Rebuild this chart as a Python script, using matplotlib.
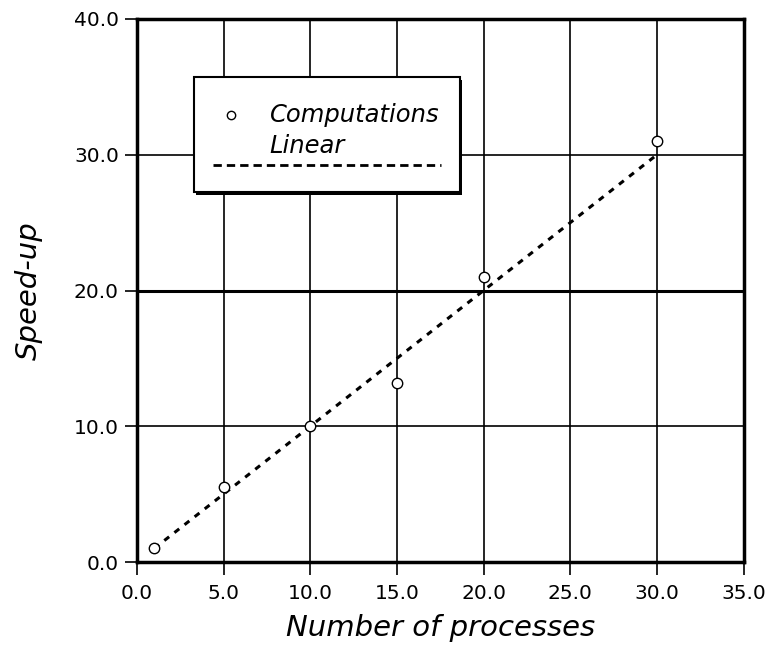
import numpy as np
import matplotlib
matplotlib.use("Agg")
import matplotlib.pyplot as plt
from matplotlib.patches import Rectangle

# data
procs = [1, 5, 10, 15, 20, 30]
speedup = [1.0, 5.5, 10.0, 13.2, 21.0, 31.0]
linear_x = [1, 30]
linear_y = [1, 30]
xticks = [0, 5, 10, 15, 20, 25, 30, 35]
yticks = [0, 10, 20, 30, 40]

plt.rcParams['font.family'] = ['DejaVu Sans']

fig = plt.figure(figsize=(7.69, 6.46), dpi=100)
ax = fig.add_axes([0.178, 0.130, 0.789, 0.8406])

ax.plot(linear_x, linear_y, color='black', lw=2.2, dashes=(2, 2.2), zorder=3)
ax.plot(procs, speedup, 'o', mfc='white', mec='black', mew=1.0, ms=7.5, ls='none', zorder=4)

ax.set_xlim(0, 35)
ax.set_ylim(0, 40)
ax.set_xticks(xticks)
ax.set_yticks(yticks)
ax.set_xticklabels([f'{v:.1f}' for v in xticks])
ax.set_yticklabels([f'{v:.1f}' for v in yticks])
ax.tick_params(direction='out', length=9, width=1.2, labelsize=14.5, colors='black')
ax.tick_params(axis='x', pad=7)
ax.tick_params(axis='y', pad=4)

ax.grid(True, color='black', lw=1.2)
ax.set_axisbelow(True)
ax.get_ygridlines()[2].set_linewidth(2.2)

for s in ax.spines.values():
    s.set_linewidth(2.5)

ax.set_xlabel('Number of processes', fontsize=21, style='italic', labelpad=8)
ax.set_ylabel('Speed-up', fontsize=21, style='italic', labelpad=22)

# legend drawn by hand to match the odd layout
tr = ax.transAxes
ax.add_patch(Rectangle((0.098, 0.676), 0.438, 0.212, transform=tr,
                       facecolor='black', edgecolor='none', zorder=5))
ax.add_patch(Rectangle((0.094, 0.681), 0.438, 0.212, transform=tr,
                       facecolor='white', edgecolor='black', lw=1.5, zorder=6))
ax.plot([0.155], [0.823], 'o', transform=tr, mfc='white', mec='black',
        mew=1.0, ms=6, zorder=7)
ax.text(0.219, 0.823, 'Computations', transform=tr, fontsize=17.5, style='italic',
        va='center', ha='left', zorder=7)
ax.text(0.219, 0.766, 'Linear', transform=tr, fontsize=17.5, style='italic',
        va='center', ha='left', zorder=7)
ax.plot([0.125, 0.501], [0.731, 0.731], transform=tr, color='black', lw=2,
        dashes=(3, 1.8), zorder=7)

fig.savefig('out.png', dpi=100)
